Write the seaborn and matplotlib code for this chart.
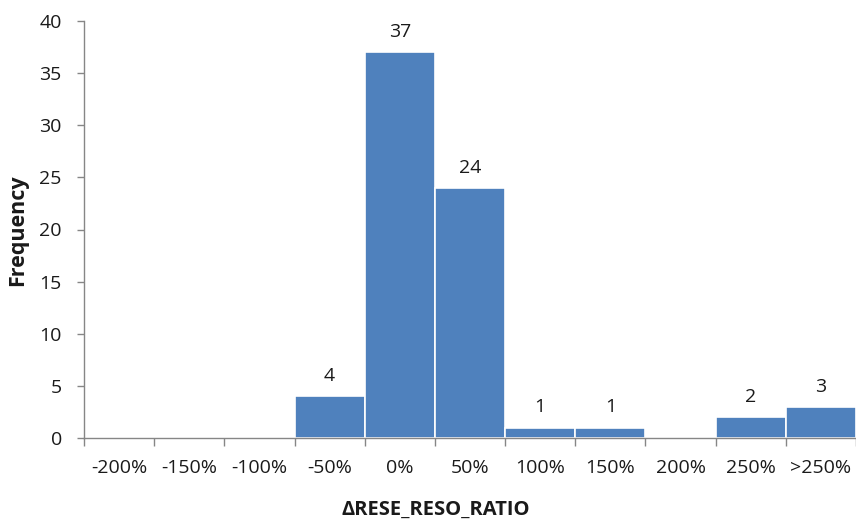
import matplotlib
matplotlib.use("Agg")
import matplotlib.pyplot as plt
import seaborn as sns
import pandas as pd
import numpy as np

# Histogram of change in RESE/RESO ratio
bins = ["-200%", "-150%", "-100%", "-50%", "0%", "50%", "100%", "150%", "200%", "250%", ">250%"]
frequency = [0, 0, 0, 4, 37, 24, 1, 1, 0, 2, 3]
y_ticks = [0, 5, 10, 15, 20, 25, 30, 35, 40]

sns.set_theme(style="white")
plt.rcParams["font.family"] = ["Open Sans", "DejaVu Sans"]

df = pd.DataFrame({"bin": bins, "freq": frequency})

fig = plt.figure(figsize=(8.56, 5.23), dpi=100)
ax = fig.add_axes([84 / 856, 1 - 438 / 523, 772 / 856, (438 - 21) / 523])

sns.barplot(data=df, x="bin", y="freq", color="#4F81BD", saturation=1,
            width=1.0, edgecolor="white", linewidth=1.2, ax=ax)

# value labels above non-empty bars
for i, v in enumerate(frequency):
    if v > 0:
        ax.annotate(str(v), (i, v), xytext=(0, 8), textcoords="offset points",
                    ha="center", va="bottom", fontsize=14, color="#1a1a1a")

ax.set_ylim(0, 40)
ax.set_yticks(y_ticks)
ax.set_xlim(-0.5, len(bins) - 0.5 - 4 / 70.6)

spine_col = "#868686"
for s in ["top", "right"]:
    ax.spines[s].set_visible(False)
for s in ["left", "bottom"]:
    ax.spines[s].set_color(spine_col)
    ax.spines[s].set_linewidth(1.0)

# tick marks sit on category boundaries, labels in the middle
ax.set_xticks(np.arange(len(bins)))
ax.set_xticklabels(bins)
ax.set_xticks(np.arange(len(bins) + 1) - 0.5, minor=True)
ax.tick_params(axis="x", which="major", length=0, pad=15, labelsize=14, labelcolor="#1a1a1a")
ax.tick_params(axis="x", which="minor", length=6, width=1, color=spine_col, direction="out", bottom=True)
ax.tick_params(axis="y", which="major", length=5, width=1, color=spine_col, direction="out", left=True,
               pad=11, labelsize=14, labelcolor="#1a1a1a")

ax.set_xlabel("")
ax.set_ylabel("")
fig.text(18 / 856, 1 - 230 / 523, "Frequency", rotation=90, ha="center", va="center",
         fontsize=15.5, fontweight="bold", color="#1a1a1a")
fig.text(436 / 856, 1 - 510 / 523, "ΔRESE_RESO_RATIO", ha="center", va="center",
         fontsize=14.5, fontweight="bold", color="#1a1a1a")

fig.savefig("out.png", dpi=100)
